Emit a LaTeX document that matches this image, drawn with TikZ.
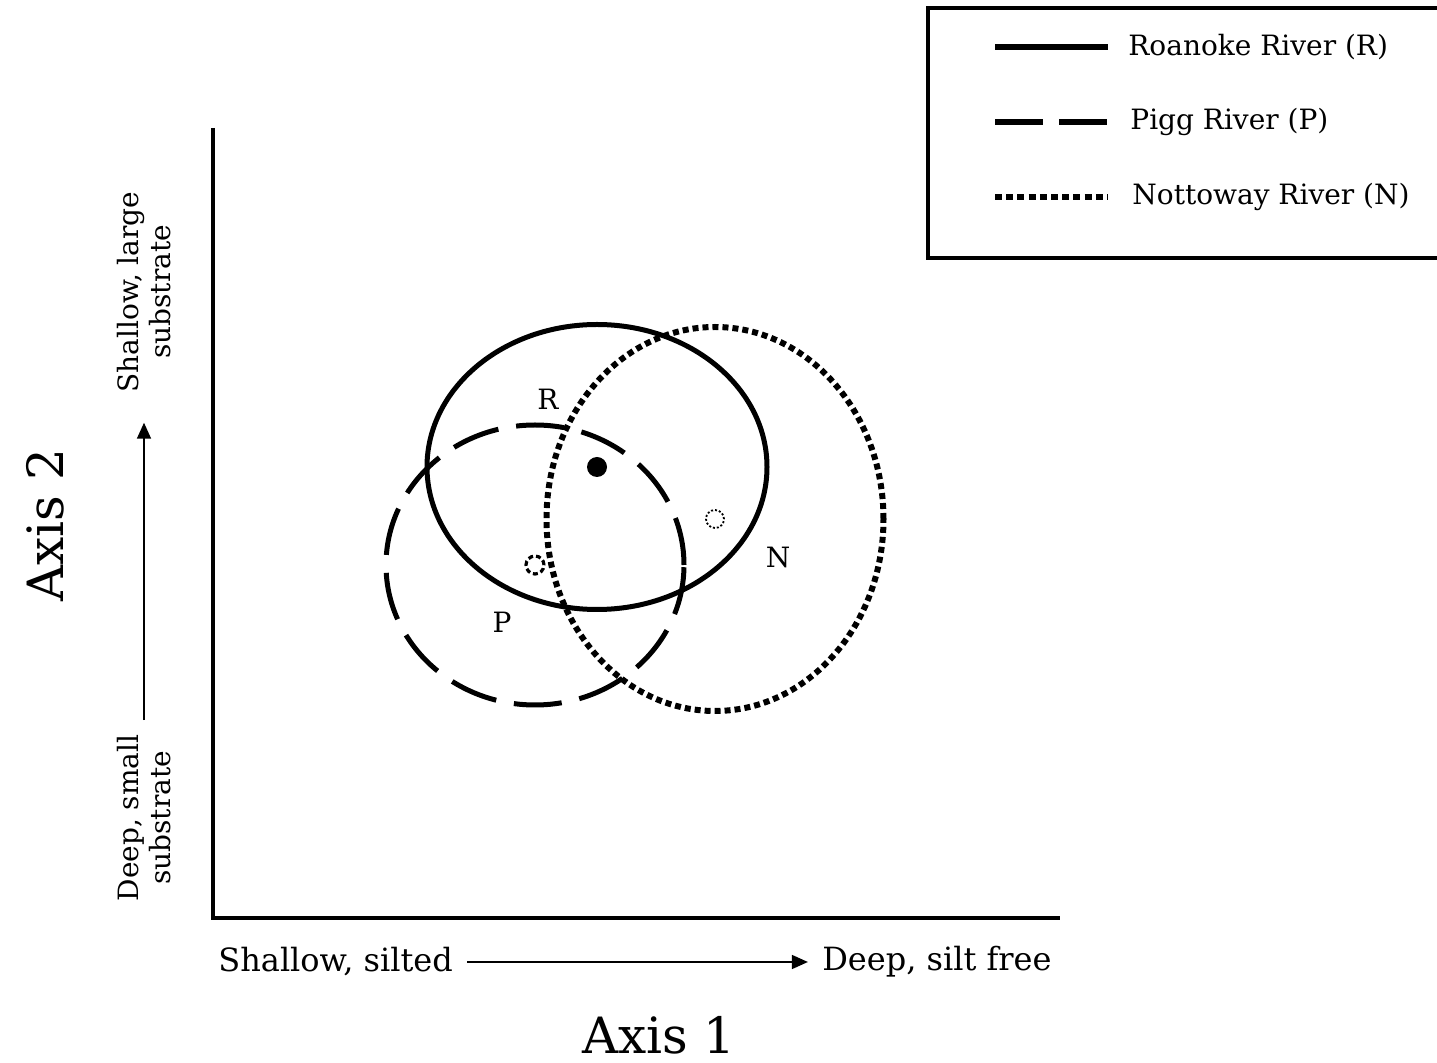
\documentclass[tikz,border=0pt]{standalone}
\usepackage{fontspec}
\setmainfont{DejaVu Serif}
\usetikzlibrary{shapes.geometric,arrows.meta,positioning}

\begin{document}
\begin{tikzpicture}[x=0.5pt,y=-0.5pt,
    axisline/.style={line width=2pt},
    ellsolid/.style={draw,ellipse,line width=2.5pt,inner sep=0pt},
    elldashed/.style={ellsolid,dash pattern=on 24pt off 9pt},
    elldotted/.style={ellsolid,line width=3pt,dash pattern=on 3pt off 2pt},
    lbl/.style={font=\fontsize{14}{16}\selectfont,inner sep=0pt},
    axlbl/.style={lbl,align=center,inner sep=7pt},
    pointer/.style={line width=0.8pt,-{Triangle[length=8pt,width=7pt]}}
]
\useasboundingbox (0,0) rectangle (1437,1063);

% legend
\draw[line width=1.8pt] (928,8) rectangle (1450,258);
\coordinate (legRa) at (995,47);  \coordinate (legRb) at (1108,47);
\coordinate (legPa) at (995,122); \coordinate (legPb) at (1108,122);
\coordinate (legNa) at (995,197); \coordinate (legNb) at (1108,197);
\draw[line width=2.6pt] (legRa) -- (legRb);
\draw[line width=2.6pt,dash pattern=on 24pt off 8pt] (legPa) -- (legPb);
\draw[line width=2.6pt,dash pattern=on 3.5pt off 2.1pt] (legNa) -- (legNb);
\node[lbl,anchor=west] (legR) at (1128,47) {Roanoke River (R)};
\node[lbl,anchor=west] (legP) at (1130,122) {Pigg River (P)};
\node[lbl,anchor=west] (legN) at (1132,197) {Nottoway River (N)};

% axes
\coordinate (ytop) at (213,128);
\coordinate (origin) at (213,918);
\coordinate (xend) at (1060,918);
\draw[axisline] (ytop) -- (origin) -- (xend);

\node[axlbl,font=\fontsize{16}{18}\selectfont,anchor=west] (xlo) at (204,962) {Shallow, silted};
\node[axlbl,font=\fontsize{16}{18}\selectfont,anchor=east] (xhi) at (1066,962) {Deep, silt free};
\draw[pointer] (xlo) -- (xhi);
\node[font=\fontsize{25}{28}\selectfont] (axis1) at (659,1035) {Axis 1};

\node[axlbl,rotate=90] (ylo) at (144,818) {Deep, small\\substrate};
\node[axlbl,rotate=90] (yhi) at (144,292) {Shallow, large\\substrate};
\draw[pointer,shorten >=8pt] (ylo) -- (yhi);
\node[font=\fontsize{25}{28}\selectfont,rotate=90] (axis2) at (45,525) {Axis 2};

% niche ellipses
\node[ellsolid,minimum width=170pt,minimum height=142.5pt] (R) at (597,467) {};
\node[elldashed,minimum width=149pt,minimum height=140pt] (P) at (535,565) {};
\node[elldotted,minimum width=168.5pt,minimum height=192pt] (N) at (715,519) {};

\fill (R.center) circle (5pt);
\draw[line width=1.6pt,dash pattern=on 2.5pt off 1.5pt] (P.center) circle (4.5pt);
\draw[line width=0.9pt,dash pattern=on 1pt off 1pt] (N.center) circle (4.5pt);

\node[lbl] (labR) at (548,399) {R};
\node[lbl] (labP) at (502,622) {P};
\node[lbl] (labN) at (778,557) {N};
\end{tikzpicture}
\end{document}
